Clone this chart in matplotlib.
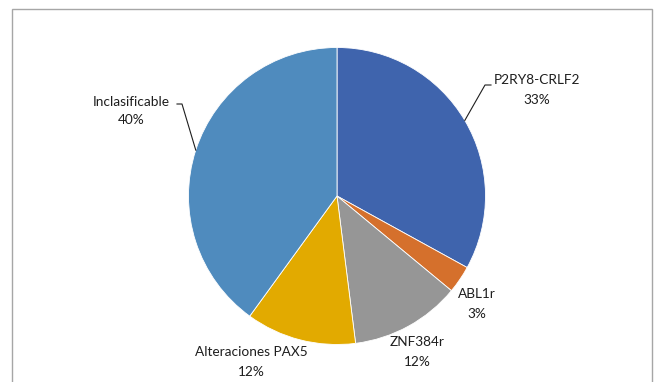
import numpy as np
import matplotlib.pyplot as plt
from matplotlib.patches import Rectangle

categorias = ["P2RY8-CRLF2", "ABL1r", "ZNF384r", "Alteraciones PAX5", "Inclasificable"]
porcentajes = [33, 3, 12, 12, 40]
colores = ["#3F64AD", "#D5702C", "#969696", "#E2AA00", "#4F8BBE"]

plt.rcParams['font.family'] = ['Lato', 'DejaVu Sans']

W, H = 664, 382
fig = plt.figure(figsize=(W / 100, H / 100), dpi=100)
ax = fig.add_axes([0, 0, 1, 1])

# chart frame
fig.patches.append(Rectangle((12 / W, -0.1), 640 / W, 1.1 - 9 / H, transform=fig.transFigure,
                             fill=False, edgecolor="#A6A6A6", linewidth=1.0))

cx, cy, r = 337, H - 196, 148.5
wedges, _ = ax.pie(porcentajes, colors=colores, startangle=90, counterclock=False,
                   center=(cx, cy), radius=r, frame=True,
                   wedgeprops=dict(edgecolor="white", linewidth=0.6))
ax.set_xlim(0, W)
ax.set_ylim(0, H)
ax.set_aspect('equal')
ax.axis('off')

# label centres (pixel coords, top-left origin) and leader-line elbows
etiquetas = {
    "P2RY8-CRLF2": ((537, 90), (485, 85)),
    "ABL1r": ((477, 304), None),
    "ZNF384r": ((417, 352), None),
    "Alteraciones PAX5": ((251, 362), None),
    "Inclasificable": ((131, 111), (182, 104)),
}

for w, cat, pct in zip(wedges, categorias, porcentajes):
    (lx, ly), codo = etiquetas[cat]
    ax.text(lx, H - ly, f"{cat}\n{pct}%", ha="center", va="center", fontsize=9.8,
            color="#1E1E1E", linespacing=1.7)
    if codo is not None:
        ang = np.deg2rad((w.theta1 + w.theta2) / 2)
        px, py = cx + r * np.cos(ang), cy + r * np.sin(ang)
        ex, ey = codo
        fin = ex + 6 if ex > cx else ex - 5
        ax.plot([px, ex, fin], [py, H - ey, H - ey], color="#1E1E1E", linewidth=0.8)

fig.savefig("out.png", dpi=100)
